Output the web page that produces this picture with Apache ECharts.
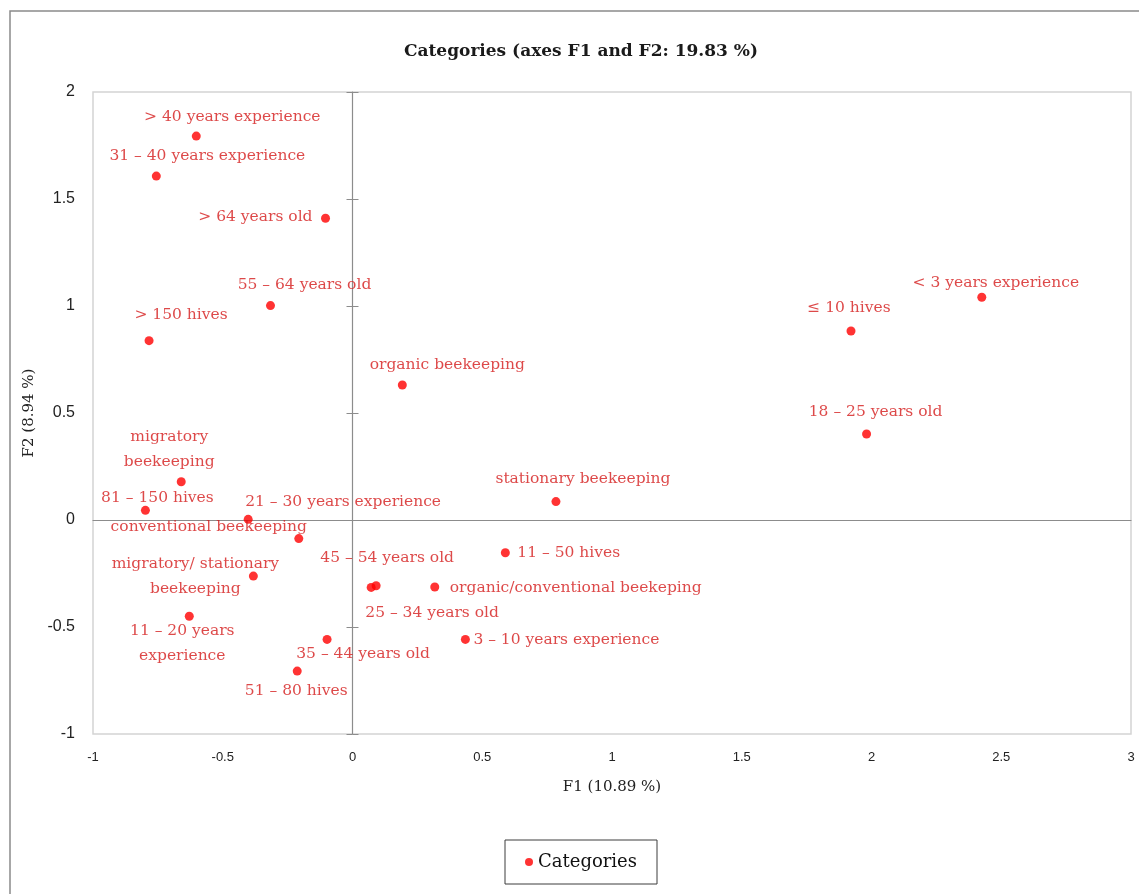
<!DOCTYPE html>
<html>
<head>
<meta charset="utf-8">
<title>Categories (axes F1 and F2: 19.83 %)</title>
<script src="https://cdn.jsdelivr.net/npm/echarts@6/dist/echarts.min.js"></script>
<style>
  html, body { margin: 0; padding: 0; background: #ffffff; }
  #chart { width: 1139px; height: 894px; }
</style>
</head>
<body>
<div id="chart"></div>
<script>
// Category labels and their coordinates on the first two factors
const categoryNames = [
  '> 40 years experience',
  '31 – 40 years experience',
  '> 64 years old',
  '55 – 64 years old',
  '> 150 hives',
  'organic beekeeping',
  '< 3 years experience',
  '≤ 10 hives',
  '18 – 25 years old',
  'stationary beekeeping',
  'migratory\nbeekeeping',
  '81 – 150 hives',
  '21 – 30 years experience',
  'conventional beekeeping',
  'migratory/ stationary\nbeekeeping',
  '11 – 20 years\nexperience',
  '35 – 44 years old',
  '51 – 80 hives',
  '45 – 54 years old',
  '25 – 34 years old',
  'organic/conventional beekeping',
  '11 – 50 hives',
  '3 – 10 years experience'
];
const f1Values = [
  -0.602, -0.756, -0.104, -0.316, -0.784, 0.192, 2.425, 1.921, 1.981, 0.784,
  -0.660, -0.798, -0.402, -0.207, -0.382, -0.629, -0.098, -0.213, 0.072, 0.091,
  0.317, 0.589, 0.435
];
const f2Values = [
  1.794, 1.607, 1.410, 1.002, 0.838, 0.631, 1.041, 0.883, 0.402, 0.086,
  0.179, 0.045, 0.003, -0.087, -0.262, -0.450, -0.558, -0.706, -0.315, -0.307,
  -0.313, -0.153, -0.558
];
const xTicks = { min: -1, max: 3, step: 0.5 };
const yTicks = { min: -1, max: 2, step: 0.5 };

// Where each label sits relative to its point: [dx, dy, text alignment]
const labelPlacement = [
  [36, -19, 'center'], [51, -20, 'center'], [-13, -1, 'right'], [34, -21, 'center'],
  [32, -26, 'center'], [45, -20, 'center'], [14, -14, 'center'], [-2, -23, 'center'],
  [9, -22, 'center'], [27, -23, 'center'], [-12, -32, 'center'], [12, -12, 'center'],
  [-3, -17, 'left'], [-90, -12, 'center'], [-58, 0, 'center'], [-7, 27, 'center'],
  [36, 15, 'center'], [-1, 20, 'center'], [16, -29, 'center'], [56, 27, 'center'],
  [15, 1, 'left'], [12, 0, 'left'], [8, 1, 'left']
];

const serif = '"DejaVu Serif", "Liberation Serif", serif';
const sans = '"Liberation Sans", "Noto Sans", sans-serif';
const axisGray = '#8c8c8c';
const dotSize = 9;

// label.position is measured from the symbol's top-left corner
const points = categoryNames.map((name, i) => ({
  name: name,
  value: [f1Values[i], f2Values[i]],
  label: {
    position: [dotSize / 2 + labelPlacement[i][0], dotSize / 2 + labelPlacement[i][1]],
    align: labelPlacement[i][2],
    verticalAlign: 'middle'
  }
}));

const chart = echarts.init(document.getElementById('chart'), null, { renderer: 'canvas' });

chart.setOption({
  backgroundColor: '#ffffff',
  animation: false,
  title: {
    text: 'Categories (axes F1 and F2: 19.83 %)',
    left: 576,
    textAlign: 'center',
    top: 38,
    textStyle: { fontFamily: serif, fontWeight: 'bold', fontSize: 17, color: '#1a1a1a' }
  },
  graphic: [{
    type: 'rect',
    shape: { x: 10, y: 11, width: 1200, height: 1000 },
    style: { fill: 'none', stroke: '#8a8a8a', lineWidth: 1.5 },
    silent: true,
    z: 100
  }],
  legend: {
    left: 505,
    top: 840,
    data: ['Categories'],
    icon: 'circle',
    itemWidth: 8,
    itemHeight: 8,
    itemGap: 6,
    padding: [13, 20, 13, 20],
    borderColor: '#3c3c3c',
    borderWidth: 1,
    textStyle: { fontFamily: serif, fontSize: 18, color: '#111111' }
  },
  grid: {
    left: 93, top: 92, right: 8, bottom: 160,
    show: true,
    borderColor: '#d4d4d4',
    borderWidth: 1.5,
    backgroundColor: '#ffffff'
  },
  xAxis: [
    { // labels and title along the bottom edge
      type: 'value', min: xTicks.min, max: xTicks.max, interval: xTicks.step,
      position: 'bottom',
      axisLine: { show: false, onZero: false },
      axisTick: { show: false },
      splitLine: { show: false },
      axisLabel: { fontFamily: sans, fontSize: 13, color: '#222222', margin: 17 },
      name: 'F1 (10.89 %)',
      nameLocation: 'middle',
      nameGap: 46,
      nameTextStyle: { fontFamily: serif, fontSize: 15, color: '#222222' }
    },
    { // horizontal line through the origin
      type: 'value', min: xTicks.min, max: xTicks.max, interval: xTicks.step,
      axisLine: { show: true, onZero: true, lineStyle: { color: axisGray, width: 1.2 } },
      axisTick: { show: false },
      axisLabel: { show: false },
      splitLine: { show: false }
    }
  ],
  yAxis: [
    { // labels and title along the left edge
      type: 'value', min: yTicks.min, max: yTicks.max, interval: yTicks.step,
      position: 'left',
      axisLine: { show: false, onZero: false },
      axisTick: { show: false },
      splitLine: { show: false },
      axisLabel: { fontFamily: sans, fontSize: 16, color: '#222222', margin: 18 },
      name: 'F2 (8.94 %)',
      nameLocation: 'middle',
      nameGap: 56,
      nameTextStyle: { fontFamily: serif, fontSize: 15, color: '#222222' }
    },
    { // vertical line through the origin, ticks to the right
      type: 'value', min: yTicks.min, max: yTicks.max, interval: yTicks.step,
      axisLine: { show: true, onZero: true, lineStyle: { color: axisGray, width: 1.2 } },
      axisTick: { show: true, inside: true, length: 6, lineStyle: { color: axisGray } },
      axisLabel: { show: false },
      splitLine: { show: false }
    },
    { // ticks to the left of the origin line
      type: 'value', min: yTicks.min, max: yTicks.max, interval: yTicks.step,
      axisLine: { show: false, onZero: true },
      axisTick: { show: true, inside: false, length: 6, lineStyle: { color: axisGray } },
      axisLabel: { show: false },
      splitLine: { show: false }
    }
  ],
  series: [{
    name: 'Categories',
    type: 'scatter',
    xAxisIndex: 0,
    yAxisIndex: 0,
    symbol: 'circle',
    symbolSize: dotSize,
    itemStyle: { color: '#ff0000' },
    label: {
      show: true,
      formatter: '{b}',
      fontFamily: serif,
      fontSize: 15.5,
      lineHeight: 25,
      color: '#d41c1c'
    },
    labelLayout: { hideOverlap: false },
    emphasis: { disabled: true },
    data: points,
    z: 5
  }]
});
</script>
</body>
</html>
